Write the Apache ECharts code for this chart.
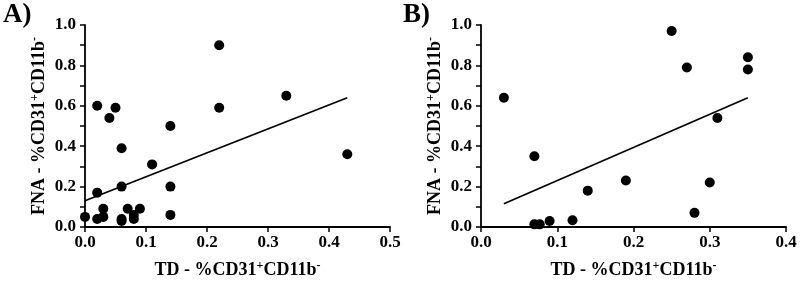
<!DOCTYPE html>
<html><head><meta charset="utf-8">
<script src="https://cdn.jsdelivr.net/npm/echarts@6/dist/echarts.min.js"></script>
<style>html,body{margin:0;padding:0;background:#fff}#c{width:800px;height:281px}</style>
</head><body><div id="c"></div>
<script>
// Panel A data
const xA = [0.00,0.02,0.02,0.02,0.03,0.03,0.04,0.05,0.06,0.06,0.06,0.06,0.07,0.08,0.08,0.09,0.11,0.14,0.14,0.14,0.22,0.22,0.33,0.43];
const yA = [0.05,0.60,0.17,0.04,0.09,0.05,0.54,0.59,0.39,0.20,0.04,0.03,0.09,0.06,0.04,0.09,0.31,0.50,0.20,0.06,0.90,0.59,0.65,0.36];
const fitAx = [0.0, 0.43];
const fitAy = [0.13, 0.64];
// Panel B data
const xB = [0.03,0.07,0.07,0.077,0.09,0.12,0.14,0.19,0.25,0.27,0.28,0.30,0.31,0.35,0.35];
const yB = [0.64,0.35,0.013,0.013,0.03,0.033,0.18,0.23,0.97,0.79,0.07,0.22,0.54,0.84,0.78];
const fitBx = [0.03, 0.35];
const fitBy = [0.115, 0.64];
const panelLabels = ['A)', 'B)'];
const xTicksA = {min: 0, max: 0.5, interval: 0.1};
const xTicksB = {min: 0, max: 0.4, interval: 0.1};
const yTicks = {min: 0, max: 1.0, interval: 0.2};

const FONT = '"Liberation Serif","Times New Roman",serif';
const pts = (xs, ys) => xs.map((x, i) => [x, ys[i]]);
const rich = {
  n: {fontFamily: FONT, fontWeight: 'bold', fontSize: 18, color: '#000', lineHeight: 20},
  s: {fontFamily: FONT, fontWeight: 'bold', fontSize: 12, color: '#000', verticalAlign: 'top', lineHeight: 20, padding: [0, 0, 9, 0]}
};
const nameStr = (p) => '{n|' + p + ' - %CD31}{s|+}{n|CD11b}{s|-}';

function xAxis(idx, t) {
  return {
    type: 'value', gridIndex: idx, min: t.min, max: t.max, interval: t.interval,
    name: nameStr('TD'), nameLocation: 'middle', nameGap: 33,
    nameTextStyle: {rich: rich},
    splitLine: {show: false},
    axisLine: {onZero: false, lineStyle: {color: '#000', width: 1.8}},
    axisTick: {length: 5, lineStyle: {color: '#000', width: 1.5}},
    axisLabel: {margin: 7, color: '#000', fontFamily: FONT, fontWeight: 'bold', fontSize: 17,
      formatter: v => v.toFixed(1)}
  };
}
function yAxis(idx) {
  return {
    type: 'value', gridIndex: idx, min: yTicks.min, max: yTicks.max, interval: yTicks.interval,
    name: nameStr('FNA'), nameLocation: 'middle', nameGap: 36,
    nameTextStyle: {rich: rich},
    splitLine: {show: false},
    axisLine: {show: true, onZero: false, lineStyle: {color: '#000', width: 1.8}},
    axisTick: {show: true, length: 5, lineStyle: {color: '#000', width: 1.5}},
    minorTick: {show: true, splitNumber: 2, length: 5, lineStyle: {color: '#000', width: 1.5}},
    axisLabel: {margin: 9, color: '#000', fontFamily: FONT, fontWeight: 'bold', fontSize: 17,
      formatter: v => v.toFixed(1)}
  };
}
const scatterS = (i, d) => ({type: 'scatter', xAxisIndex: i, yAxisIndex: i, data: d,
  symbol: 'circle', symbolSize: 10, itemStyle: {color: '#000', opacity: 1}, z: 3});
const lineS = (i, d) => ({type: 'line', xAxisIndex: i, yAxisIndex: i, data: d,
  symbol: 'none', lineStyle: {color: '#000', width: 1.8}, z: 2});

const chart = echarts.init(document.getElementById('c'), null, {renderer: 'canvas'});
chart.setOption({
  animation: false,
  backgroundColor: '#fff',
  grid: [
    {left: 85, top: 25, width: 305, height: 202, containLabel: false, outerBoundsMode: 'none'},
    {left: 481, top: 25, width: 305, height: 202, containLabel: false, outerBoundsMode: 'none'}
  ],
  xAxis: [xAxis(0, xTicksA), xAxis(1, xTicksB)],
  yAxis: [yAxis(0), yAxis(1)],
  series: [
    scatterS(0, pts(xA, yA)), lineS(0, pts(fitAx, fitAy)),
    scatterS(1, pts(xB, yB)), lineS(1, pts(fitBx, fitBy))
  ],
  graphic: [
    {type: 'text', left: 3, top: 2, style: {text: panelLabels[0], font: 'bold 27px ' + FONT, fill: '#000'}},
    {type: 'text', left: 403, top: 2, style: {text: panelLabels[1], font: 'bold 27px ' + FONT, fill: '#000'}}
  ]
});
</script></body></html>
